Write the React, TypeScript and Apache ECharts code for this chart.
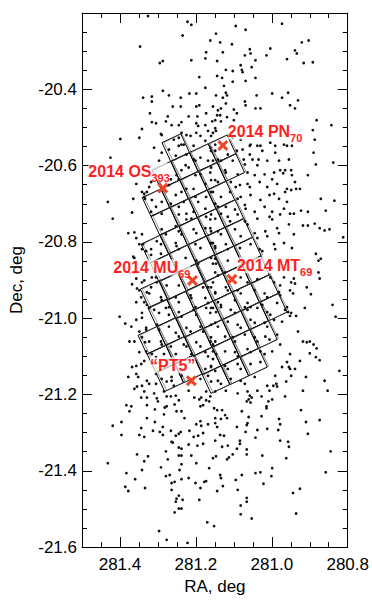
import React, { useEffect, useRef } from 'react';
import * as echarts from 'echarts';

const FONT = '"Liberation Sans", Arial, Helvetica, sans-serif';
const RED_TEXT = '#ff1f1f';
const RED_MARK = '#f0452b';

// axis ranges (degrees)
const RA_MIN = 280.8;
const RA_MAX = 281.5;
const DEC_MIN = -21.6;
const DEC_MAX = -20.2;

// star field: [RA, Dec]
const stars: number[][] = [
  [281.326,-20.208],[281.235,-20.259],[281.347,-20.288],[281.295,-20.331],[281.287,-20.326],[281.339,-20.422],[281.316,-20.419],[281.287,-20.404],[281.271,-20.416],[281.240,-20.422],[281.316,-20.432],[281.261,-20.445],[281.240,-20.445],[281.321,-20.463],[281.316,-20.486],[281.274,-20.471],[281.264,-20.494],[281.342,-20.504],[281.292,-20.517],[281.245,-20.527],[281.399,-20.530],[281.349,-20.527],[281.425,-20.579],[281.310,-20.553],[281.336,-20.674],[281.329,-20.669],[281.232,-20.545],
  [281.222,-20.223],[281.212,-20.231],[281.095,-20.234],[281.069,-20.244],[280.973,-20.228],[281.147,-20.254],[281.162,-20.272],[281.136,-20.277],[281.105,-20.282],[281.004,-20.293],[280.921,-20.277],[280.903,-20.272],[281.173,-20.303],[281.129,-20.303],[281.071,-20.311],[281.058,-20.295],[281.056,-20.306],[280.939,-20.298],[280.934,-20.306],[281.212,-20.324],[281.144,-20.326],[281.175,-20.319],[281.043,-20.324],[281.014,-20.311],[280.960,-20.321],[280.916,-20.331],[280.892,-20.329],[281.082,-20.337],[281.053,-20.342],[281.079,-20.349],[281.077,-20.355],[281.121,-20.349],[281.103,-20.352],[281.144,-20.365],[281.131,-20.370],[281.191,-20.368],[281.069,-20.378],[281.043,-20.370],[281.103,-20.380],[281.126,-20.391],[281.175,-20.396],[281.199,-20.411],[281.217,-20.411],[281.121,-20.409],[281.118,-20.416],[281.147,-20.416],[281.129,-20.422],[281.040,-20.416],[280.999,-20.411],[280.957,-20.409],[280.973,-20.422],[280.931,-20.429],[281.071,-20.432],[281.069,-20.442],[281.191,-20.442],[281.199,-20.445],[281.155,-20.445],[281.142,-20.455],[281.134,-20.450],[281.121,-20.437],[281.100,-20.453],[281.043,-20.450],[281.030,-20.450],[280.952,-20.442],[280.939,-20.450],[281.173,-20.463],[281.219,-20.471],[281.196,-20.471],[281.144,-20.468],[281.136,-20.468],[281.118,-20.473],[281.092,-20.463],[281.100,-20.481],[280.882,-20.481],[280.843,-20.494],[281.225,-20.520],[280.892,-20.507],[281.058,-20.548],[281.038,-20.548],[281.092,-20.561],[280.991,-20.548],[280.887,-20.532],[280.890,-20.566],[281.074,-20.584],[281.035,-20.584],[280.838,-20.592],[280.978,-20.612],[280.949,-20.612],[280.970,-20.620],[280.884,-20.597],[280.999,-20.636],[280.905,-20.625],[280.926,-20.661],[280.949,-20.664],[280.936,-20.661],[280.965,-20.669],[280.994,-20.674],
  [281.432,-20.695],[281.365,-20.687],[281.334,-20.687],[281.316,-20.690],[281.419,-20.739],[281.368,-20.723],[281.362,-20.775],[281.378,-20.777],[281.357,-20.790],[281.349,-20.806],[281.339,-20.806],[281.342,-20.819],[281.331,-20.824],[281.365,-20.839],[281.318,-20.834],[281.375,-20.880],[281.362,-20.880],[281.357,-20.896],[281.368,-20.911],[281.355,-20.922],[281.342,-20.906],[281.329,-20.932],[281.318,-20.919],[281.316,-20.893],[281.344,-20.945],[281.336,-20.958],[281.401,-20.996],[281.386,-21.014],[281.342,-20.986],[281.375,-21.061],[281.349,-21.035],[281.331,-21.030],[281.342,-21.050],[281.334,-21.063],[281.331,-21.087],[281.368,-21.128],[281.357,-21.125],[281.378,-21.154],[281.352,-21.154],[281.342,-21.177],[281.305,-21.146],[281.355,-21.179],[281.344,-21.120],[281.316,-21.115],[281.284,-21.128],[281.277,-21.166],[281.264,-21.154],
  [281.383,-21.228],[281.370,-21.231],[281.375,-21.244],[281.344,-21.208],[281.329,-21.208],[281.329,-21.228],[281.308,-21.239],[281.300,-21.218],[281.282,-21.234],[281.277,-21.231],[281.266,-21.205],[281.284,-21.252],[281.256,-21.226],[281.251,-21.244],[281.238,-21.244],[281.419,-21.282],[281.396,-21.272],[281.396,-21.306],[281.344,-21.288],[281.329,-21.262],[281.308,-21.272],[281.287,-21.285],[281.313,-21.295],[281.349,-21.306],[281.336,-21.311],[281.295,-21.298],[281.287,-21.306],[281.266,-21.295],[281.253,-21.308],[281.245,-21.303],[281.240,-21.298],[281.264,-21.324],[281.261,-21.326],[281.245,-21.339],[281.238,-21.342],[281.355,-21.357],[281.326,-21.362],[281.336,-21.375],[281.279,-21.349],[281.274,-21.370],[281.245,-21.360],[281.238,-21.360],[281.238,-21.383],[281.432,-21.380],[281.383,-21.406],[281.342,-21.398],[281.360,-21.422],[281.292,-21.391],[281.279,-21.414],[281.269,-21.411],[281.264,-21.432],[281.256,-21.429],[281.243,-21.398],[281.238,-21.422],[281.386,-21.442],[281.378,-21.453],[281.334,-21.445],[281.264,-21.450],[281.251,-21.473],[281.253,-21.481],[281.245,-21.499],[281.238,-21.499],[281.245,-21.465],[281.256,-21.509],[281.235,-21.476],[281.297,-21.558],[281.277,-21.581],
  [281.222,-21.589],[281.204,-21.208],[281.191,-21.213],[281.186,-21.208],[281.173,-21.215],[281.165,-21.218],[281.188,-21.231],[281.181,-21.228],[281.230,-21.262],[281.152,-21.236],[281.144,-21.241],[281.131,-21.241],[281.123,-21.254],[281.118,-21.262],[281.149,-21.262],[281.134,-21.264],[281.188,-21.270],[281.186,-21.282],[281.199,-21.278],[281.168,-21.278],[281.149,-21.275],[281.144,-21.285],[281.217,-21.295],[281.206,-21.311],[281.194,-21.308],[281.181,-21.301],[281.136,-21.306],[281.126,-21.308],[281.149,-21.321],[281.219,-21.331],[281.196,-21.334],[281.181,-21.329],[281.131,-21.337],[281.116,-21.334],[281.212,-21.360],[281.155,-21.367],[281.147,-21.362],[281.118,-21.370],[281.113,-21.365],[281.103,-21.357],[281.092,-21.285],[281.079,-21.244],[281.066,-21.218],[281.061,-21.213],[281.053,-21.208],[281.056,-21.221],[281.066,-21.280],[281.064,-21.275],[281.061,-21.259],[281.069,-21.298],[281.084,-21.321],[281.084,-21.329],[281.092,-21.342],[281.066,-21.344],[281.066,-21.357],[281.027,-21.205],[281.009,-21.218],[280.999,-21.213],[281.014,-21.231],[281.014,-21.236],[281.027,-21.257],[281.038,-21.293],[281.043,-21.313],[281.012,-21.290],[281.025,-21.360],[280.981,-21.264],[280.978,-21.278],[280.983,-21.293],[280.965,-21.205],[280.978,-21.321],[280.957,-21.324],[280.955,-21.337],[280.962,-21.367],[280.923,-21.241],[280.910,-21.272],[280.905,-21.303],[280.874,-21.267],[280.845,-21.349],[280.858,-21.404],[281.199,-21.380],[281.165,-21.393],[281.136,-21.411],[281.134,-21.419],[281.129,-21.440],[281.144,-21.453],[281.178,-21.429],[281.173,-21.427],[281.188,-21.445],[281.201,-21.432],[281.219,-21.419],[281.191,-21.476],[281.095,-21.424],[281.090,-21.450],[281.079,-21.411],[281.043,-21.406],[281.030,-21.404],[281.022,-21.434],[280.999,-21.393],[281.001,-21.414],[281.066,-21.471],[281.066,-21.481],[281.082,-21.491],[281.082,-21.514],[281.053,-21.525],[280.944,-21.458],[280.926,-21.447],[280.936,-21.512],[281.170,-21.535],[281.152,-21.545],
  [280.871,-20.687],[280.835,-20.692],[280.858,-20.718],[280.923,-20.718],[280.905,-20.721],[280.812,-20.788],[280.887,-20.752],[280.918,-20.757],[280.905,-20.757],[280.874,-20.764],[280.861,-20.770],[280.848,-20.767],[280.884,-20.831],[280.877,-20.849],[280.871,-20.844],[280.877,-20.880],[280.874,-20.896],[280.908,-20.919],[280.897,-20.937],[280.939,-20.909],[280.949,-20.906],[280.944,-20.935],[280.957,-20.984],[280.949,-20.986],[280.952,-20.994],[280.936,-20.994],[280.913,-20.973],[280.832,-20.996],[280.840,-20.965],[280.931,-21.035],[280.918,-21.061],[280.908,-21.063],[280.900,-21.061],[280.890,-21.069],[280.882,-21.079],[280.900,-21.092],[280.884,-21.102],[280.874,-21.110],[280.822,-21.138],[280.861,-21.164],[280.910,-21.154],[280.926,-21.112],[280.952,-21.133],[280.939,-21.133],[280.949,-21.151],[280.973,-21.128],[280.996,-21.177],[280.988,-21.172],[280.853,-21.190],[280.918,-21.190],[280.962,-21.166],[280.978,-21.069],[280.978,-20.914],[280.978,-20.940],
  [281.305,-20.489],[281.279,-20.484],[281.245,-20.494],[281.238,-20.486],[281.199,-20.489],[281.194,-20.496],[281.175,-20.494],[281.157,-20.484],[281.149,-20.502],[281.290,-20.520],[281.258,-20.532],[281.238,-20.514],[281.214,-20.522],[281.199,-20.514],[281.188,-20.522],[281.168,-20.509],[281.155,-20.514],[281.245,-20.548],[281.238,-20.545],[281.206,-20.548],[281.175,-20.535],[281.160,-20.561],[281.149,-20.545],[281.290,-20.566],[281.271,-20.558],[281.297,-20.587],[281.253,-20.574],[281.225,-20.571],[281.206,-20.584],[281.201,-20.587],[281.188,-20.579],[281.168,-20.587],[281.155,-20.587],[281.227,-20.599],[281.219,-20.605],[281.238,-20.612],[281.251,-20.625],[281.245,-20.636],[281.266,-20.636],[281.271,-20.651],[281.297,-20.648],[281.318,-20.643],[281.323,-20.656],[281.342,-20.669],[281.336,-20.682],[281.201,-20.625],[281.188,-20.623],[281.162,-20.618],[281.160,-20.638],[281.175,-20.648],[281.206,-20.661],[281.225,-20.661],[281.238,-20.669],[281.253,-20.677],[281.266,-20.700],[281.290,-20.695],[281.305,-20.708],[281.318,-20.721],[281.290,-20.726],[281.245,-20.708],[281.232,-20.695],[281.201,-20.682],[281.194,-20.695],[281.173,-20.682],[281.160,-20.669],[281.149,-20.700],[281.175,-20.713],[281.206,-20.721],[281.225,-20.726],[281.357,-20.648],
  [281.149,-20.481],[281.134,-20.484],[281.160,-20.522],[281.147,-20.509],[281.103,-20.527],[281.082,-20.532],[281.056,-20.545],[281.030,-20.548],[281.004,-20.540],[280.968,-20.545],[280.960,-20.548],[281.162,-20.553],[281.149,-20.561],[281.116,-20.571],[281.077,-20.558],[281.058,-20.571],[281.025,-20.561],[280.991,-20.566],[280.947,-20.548],[281.142,-20.584],[281.134,-20.587],[281.103,-20.587],[281.071,-20.597],[281.051,-20.584],[281.038,-20.599],[281.012,-20.587],[280.981,-20.587],[280.955,-20.584],[281.160,-20.605],[281.123,-20.612],[281.121,-20.618],[281.090,-20.623],[281.064,-20.618],[281.045,-20.625],[281.019,-20.623],[280.994,-20.618],[280.965,-20.612],[280.947,-20.625],[281.149,-20.638],[281.142,-20.643],[281.108,-20.643],[281.095,-20.656],[281.084,-20.651],[281.064,-20.648],[281.058,-20.656],[281.032,-20.643],[281.012,-20.656],[280.986,-20.648],[280.960,-20.661],[280.939,-20.643],[281.155,-20.669],[281.134,-20.682],[281.110,-20.669],[281.090,-20.687],[281.082,-20.682],[281.056,-20.677],[281.030,-20.690],[281.006,-20.677],[280.981,-20.687],[280.960,-20.695],[281.142,-20.708],[281.121,-20.708],[281.097,-20.715],[281.071,-20.703],[281.069,-20.713],[281.045,-20.721],[281.019,-20.708],[280.999,-20.721],[280.968,-20.713],[280.942,-20.726],
  [281.245,-20.728],[281.225,-20.741],[281.212,-20.739],[281.173,-20.734],[281.162,-20.741],[281.253,-20.759],[281.245,-20.772],[281.238,-20.780],[281.206,-20.767],[281.199,-20.777],[281.175,-20.764],[281.160,-20.772],[281.290,-20.767],[281.279,-20.780],[281.303,-20.798],[281.292,-20.806],[281.253,-20.803],[281.251,-20.811],[281.245,-20.819],[281.201,-20.806],[281.188,-20.816],[281.160,-20.803],[281.149,-20.816],[281.342,-20.780],[281.362,-20.842],[281.318,-20.819],[281.292,-20.831],[281.199,-20.849],[281.194,-20.857],[281.160,-20.842],[281.155,-20.857],[281.227,-20.842],[281.336,-20.901],[281.305,-20.893],[281.303,-20.906],[281.277,-20.914],[281.245,-20.914],[281.181,-20.919],[281.168,-20.919],[281.155,-20.906],[281.349,-20.927],[281.323,-20.935],[281.292,-20.945],[281.290,-20.953],[281.253,-20.945],[281.245,-20.958],[281.214,-20.940],[281.212,-20.947],[281.175,-20.947],[281.168,-20.960],[281.149,-20.935],[281.357,-20.958],[281.329,-20.965],[281.323,-20.973],[281.271,-20.971],[281.201,-20.971],[281.160,-20.973],
  [281.160,-20.728],[281.149,-20.739],[281.134,-20.726],[281.116,-20.734],[281.110,-20.746],[281.090,-20.728],[281.071,-20.746],[281.064,-20.754],[281.038,-20.739],[281.006,-20.734],[280.999,-20.741],[280.978,-20.728],[280.952,-20.726],[281.162,-20.764],[281.142,-20.772],[281.134,-20.780],[281.097,-20.767],[281.082,-20.785],[281.045,-20.777],[281.038,-20.790],[281.017,-20.772],[281.012,-20.785],[280.986,-20.764],[280.981,-20.777],[280.955,-20.754],[280.942,-20.780],[281.155,-20.803],[281.149,-20.811],[281.121,-20.806],[281.116,-20.819],[281.084,-20.816],[281.056,-20.806],[281.032,-20.819],[281.025,-20.824],[280.994,-20.806],[280.991,-20.819],[280.968,-20.803],[280.947,-20.816],[281.149,-20.844],[281.147,-20.857],[281.116,-20.849],[281.149,-20.880],[281.142,-20.888],[281.123,-20.880],[281.082,-20.893],[281.064,-20.906],[281.038,-20.898],[281.004,-20.893],[280.994,-20.906],[280.968,-20.893],[280.942,-20.896],[281.160,-20.919],[281.149,-20.932],[281.121,-20.919],[281.116,-20.927],[281.090,-20.927],[281.082,-20.935],[281.045,-20.927],[281.019,-20.935],[281.012,-20.945],[280.981,-20.932],[280.952,-20.927],[281.142,-20.958],[281.134,-20.965],[281.097,-20.953],[281.064,-20.960],[281.056,-20.971],[281.025,-20.965],[280.986,-20.960],[280.960,-20.971],
  [281.357,-21.004],[281.342,-20.999],[281.370,-21.022],[281.331,-21.025],[281.310,-20.978],[281.297,-20.986],[281.279,-20.973],[281.271,-20.991],[281.245,-20.984],[281.238,-20.996],[281.206,-20.978],[281.199,-20.991],[281.173,-20.973],[281.162,-20.986],[281.303,-21.017],[281.297,-21.030],[281.271,-21.022],[281.253,-21.038],[281.245,-21.048],[281.225,-21.025],[281.214,-21.035],[281.188,-21.022],[281.181,-21.035],[281.160,-21.017],[281.362,-21.061],[281.323,-21.061],[281.292,-21.061],[281.290,-21.069],[281.266,-21.074],[281.232,-21.069],[281.225,-21.074],[281.199,-21.063],[281.188,-21.074],[281.162,-21.061],[281.155,-21.069],[281.349,-21.089],[281.316,-21.094],[281.305,-21.102],[281.284,-21.094],[281.253,-21.094],[281.212,-21.094],[281.175,-21.089],[281.168,-21.100],[281.336,-21.112],[281.175,-21.133],[281.160,-21.125],[281.357,-21.146],[281.329,-21.164],[281.323,-21.172],[281.305,-21.172],[281.290,-21.159],[281.264,-21.164],[281.258,-21.177],[281.238,-21.151],[281.188,-21.159],[281.168,-21.151],[281.160,-21.166],[281.362,-21.185],[281.336,-21.192],[281.310,-21.197],[281.303,-21.210],[281.284,-21.192],[281.277,-21.205],[281.253,-21.203],[281.245,-21.215],[281.219,-21.190],[281.173,-21.192],[281.162,-21.205],
  [281.155,-20.973],[281.147,-20.984],[281.134,-20.971],[281.108,-20.978],[281.097,-20.986],[281.071,-20.971],[281.064,-20.978],[281.038,-20.973],[281.012,-20.984],[281.004,-20.991],[280.965,-20.978],[281.149,-21.012],[281.142,-21.022],[281.116,-21.009],[281.090,-21.017],[281.082,-21.025],[281.056,-21.004],[281.045,-21.012],[281.019,-21.012],[281.012,-21.022],[280.994,-21.004],[280.973,-21.009],[281.160,-21.050],[281.149,-21.061],[281.123,-21.048],[281.103,-21.050],[281.097,-21.061],[281.071,-21.043],[281.045,-21.050],[281.038,-21.061],[281.017,-21.048],[281.006,-21.056],[280.986,-21.043],[281.155,-21.087],[281.147,-21.094],[281.123,-21.087],[281.097,-21.089],[281.090,-21.100],[281.064,-21.081],[281.056,-21.089],[281.030,-21.087],[281.019,-21.094],[280.999,-21.087],[281.155,-21.107],[281.160,-21.128],[281.149,-21.138],[281.123,-21.125],[281.116,-21.133],[281.090,-21.120],[281.082,-21.133],[281.056,-21.120],[281.030,-21.115],[280.952,-21.094],[280.960,-21.115],[280.955,-21.128],[281.142,-21.164],[281.134,-21.172],[281.108,-21.159],[281.082,-21.164],[281.071,-21.172],[281.045,-21.154],[280.991,-21.151],[281.149,-21.192],[281.121,-21.190],[281.090,-21.197],[281.064,-21.192],[281.058,-21.203],[281.038,-21.190],[281.012,-21.177],[281.006,-21.190],[280.986,-21.179]
];

// survey field centres: [RA, Dec]
const fieldCenters: number[][] = [
  [281.131,-20.556],[281.108,-20.605],
  [281.181,-20.579],[281.157,-20.628],[281.134,-20.677],[281.110,-20.726],[281.087,-20.775],[281.064,-20.824],[281.043,-20.873],[281.019,-20.922],[280.996,-20.971],
  [281.253,-20.553],
  [281.230,-20.602],[281.206,-20.651],[281.183,-20.700],[281.160,-20.749],[281.136,-20.798],[281.113,-20.847],[281.092,-20.896],[281.069,-20.945],[281.045,-20.994],[281.022,-21.043],
  [281.279,-20.625],[281.256,-20.674],[281.232,-20.723],[281.209,-20.772],[281.186,-20.821],[281.165,-20.870],[281.142,-20.919],[281.118,-20.968],[281.095,-21.017],[281.071,-21.066],[281.048,-21.115],
  [281.305,-20.697],[281.282,-20.746],[281.258,-20.795],[281.235,-20.844],[281.212,-20.893],[281.191,-20.942],[281.168,-20.991],[281.144,-21.040],[281.121,-21.089],[281.097,-21.138],
  [281.308,-20.819],[281.284,-20.868],[281.261,-20.916],[281.240,-20.965],[281.217,-21.014],[281.194,-21.063],[281.170,-21.112],[281.147,-21.161],
  [281.310,-20.937],[281.290,-20.986],[281.266,-21.035],[281.243,-21.084],[281.219,-21.133],
  [281.316,-21.058],[281.292,-21.107],[281.269,-21.156]
];
const FIELD_SIZE = 0.0544; // degrees
const FIELD_ROT = 25; // degrees

// targets
const targetMain = ['2014 PN', '2014 OS', '2014 MU', '2014 MT', '\u201CPT5\u201D'];
const targetSub = ['70', '393', '69', '69', ''];
const targetRA = [281.129, 281.287, 281.209, 281.105, 281.212];
const targetDec = [-20.547, -20.659, -20.901, -20.898, -21.164];
const labelLayout = [
  { align: 'left', offset: [5, -14] },
  { align: 'right', offset: [7, -17] },
  { align: 'right', offset: [-2, -13] },
  { align: 'left', offset: [5, -14] },
  { align: 'right', offset: [4, -15.5] },
];

const CROSS = 'path://M2,0 L5,3 L8,0 L10,2 L7,5 L10,8 L8,10 L5,7 L2,10 L0,8 L3,5 L0,2 Z';
const MARK_SIZE = 11;

function buildOption(): any {
  const lineStyle = { color: '#000', width: 1 };
  const xBase = { type: 'value', min: RA_MIN, max: RA_MAX, inverse: true, splitLine: { show: false } };
  const yBase = { type: 'value', min: DEC_MIN, max: DEC_MAX, interval: 0.2, splitLine: { show: false } };
  const fmt = (v: number) => {
    const r = Math.round(v * 10);
    return r % 2 === 0 ? v.toFixed(1) : '';
  };
  const labelStyle = { color: '#000', fontSize: 17, fontFamily: FONT };
  const nameStyle = { color: '#000', fontSize: 17, fontFamily: FONT };
  const richBase = { color: RED_TEXT, fontFamily: FONT, fontWeight: 'bold', textBorderWidth: 0, textBorderColor: 'transparent' };

  const square = (c: number[], s: number, rot: number, dx: number, dy: number) => {
    const a = (rot * Math.PI) / 180;
    const ax = (Math.cos(a) * s) / 2, ay = (-Math.sin(a) * s) / 2;
    const bx = (Math.sin(a) * s) / 2, by = (Math.cos(a) * s) / 2;
    const x = c[0] + dx, y = c[1] + dy;
    return [
      [x - ax - bx, y - ay - by],
      [x + ax - bx, y + ay - by],
      [x + ax + bx, y + ay + by],
      [x - ax + bx, y - ay + by],
    ];
  };

  return {
    animation: false,
    grid: { left: 82, right: 22, top: 13, bottom: 44, containLabel: false },
    xAxis: [
      {
        ...xBase, position: 'bottom', interval: 0.2,
        axisLine: { show: true, lineStyle },
        axisTick: { show: true, inside: true, length: 10, lineStyle },
        axisLabel: { ...labelStyle, margin: 9, formatter: fmt, showMaxLabel: false },
        name: 'RA, deg', nameLocation: 'middle', nameGap: 28, nameTextStyle: nameStyle,
      },
      {
        ...xBase, position: 'bottom', interval: 0.05,
        axisLine: { show: false },
        axisTick: { show: true, inside: true, length: 5, lineStyle },
        axisLabel: { show: false },
      },
      {
        ...xBase, position: 'top', interval: 0.2,
        axisLine: { show: true, lineStyle },
        axisTick: { show: true, inside: true, length: 10, lineStyle },
        axisLabel: { show: false },
      },
      {
        ...xBase, position: 'top', interval: 0.05,
        axisLine: { show: false },
        axisTick: { show: true, inside: true, length: 5, lineStyle },
        axisLabel: { show: false },
      },
    ],
    yAxis: [
      {
        ...yBase, position: 'left',
        axisLine: { show: true, lineStyle },
        axisTick: { show: true, inside: true, length: 10, lineStyle },
        minorTick: { show: true, splitNumber: 4, length: 5, lineStyle },
        axisLabel: { ...labelStyle, margin: 5, formatter: (v: number) => v.toFixed(1), showMaxLabel: false },
        name: 'Dec, deg', nameLocation: 'middle', nameGap: 57, nameRotate: 90, nameTextStyle: nameStyle,
      },
      {
        ...yBase, position: 'right',
        axisLine: { show: true, lineStyle },
        axisTick: { show: true, inside: true, length: 10, lineStyle },
        minorTick: { show: true, splitNumber: 4, length: 5, lineStyle },
        axisLabel: { show: false },
      },
    ],
    series: [
      {
        type: 'custom',
        xAxisIndex: 0, yAxisIndex: 0,
        silent: true,
        z: 2,
        data: fieldCenters,
        renderItem: (params: any, api: any) => {
          const c = api.coord([api.value(0), api.value(1)]);
          const s = api.size([0, FIELD_SIZE])[1];
          const style = { fill: 'none', stroke: '#000', lineWidth: 1 };
          return {
            type: 'group',
            children: [
              { type: 'polygon', shape: { points: square(c, s, FIELD_ROT, 0, 0) }, style },
              { type: 'polygon', shape: { points: square(c, s * 0.97, FIELD_ROT + 2, 1.6, -0.6) }, style: { ...style, stroke: '#555', lineWidth: 0.6 } },
            ],
          };
        },
      },
      {
        type: 'scatter',
        xAxisIndex: 0, yAxisIndex: 0,
        silent: true,
        z: 3,
        symbol: 'circle',
        symbolSize: 2.8,
        itemStyle: { color: '#111', opacity: 1 },
        data: stars,
      },
      {
        type: 'scatter',
        xAxisIndex: 0, yAxisIndex: 0,
        silent: true,
        z: 5,
        symbol: CROSS,
        symbolSize: MARK_SIZE,
        itemStyle: { color: RED_MARK, opacity: 1 },
        data: targetRA.map((ra, i) => ({
          value: [ra, targetDec[i]],
          label: {
            show: true,
            position: [MARK_SIZE / 2 + labelLayout[i].offset[0], MARK_SIZE / 2 + labelLayout[i].offset[1]],
            align: labelLayout[i].align,
            verticalAlign: 'middle',
            color: RED_TEXT,
            opacity: 1,
            textBorderWidth: 0,
            textBorderColor: 'transparent',
            backgroundColor: 'rgba(255,255,255,0.7)',
            formatter: targetSub[i] ? `{a|${targetMain[i]}}{b|${targetSub[i]}}` : `{a|${targetMain[i]}}`,
            rich: {
              a: { ...richBase, fontSize: 16, lineHeight: 16, verticalAlign: 'top' },
              b: { ...richBase, fontSize: 11, lineHeight: 11, padding: [9, 0, 0, 0], verticalAlign: 'top' },
            },
          },
        })),
      },
    ],
  };
}

export default function App() {
  const ref = useRef<HTMLDivElement>(null);
  useEffect(() => {
    if (!ref.current) return;
    const chart = echarts.init(ref.current, undefined, { renderer: 'svg' });
    chart.setOption(buildOption());
    return () => chart.dispose();
  }, []);
  return (
    <div
      ref={ref}
      style={{ position: 'fixed', left: 0, top: 0, width: 372, height: 600, background: '#fff' }}
    />
  );
}
